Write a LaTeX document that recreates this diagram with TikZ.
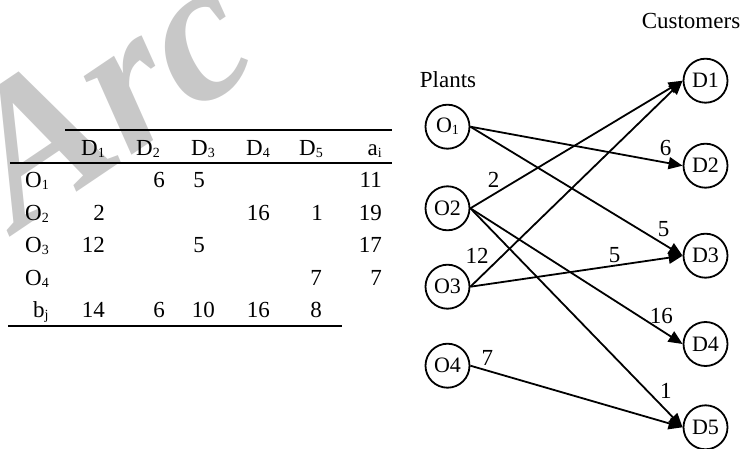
\documentclass[tikz,border=0pt]{standalone}
\usepackage{fontspec}
\setmainfont{Liberation Serif}
\usetikzlibrary{arrows.meta}
\definecolor{markGray}{RGB}{200,200,200}
\newcommand{\sbs}[1]{\raisebox{-2pt}{\fontsize{14}{14}\selectfont #1}}
\tikzset{
  site/.style = {
    draw,
    circle,
    line width=1.8pt,
    minimum size=44pt,
    inner sep=0pt,
    font=\fontsize{22}{22}\selectfont,
  },
  flow/.style = {
    -{Triangle[length=14pt, width=12pt]},
    line width=1.8pt,
  },
  onFlow/.style = {
    inner sep=2pt,
    font=\fontsize{23}{23}\selectfont,
  },
  cell/.style = {
    anchor=base east,
    inner sep=0pt,
    font=\fontsize{23}{23}\selectfont,
  },
  rowHead/.style = {
    cell,
    anchor=base west,
  },
  rule/.style = {
    line width=1.8pt,
  },
}

\begin{document}
\begin{tikzpicture}[x=1pt, y=-1pt]
\useasboundingbox (0,0) rectangle (741,449);

\begin{scope}
\clip (0,0) rectangle (741,449);
\node(Mark)[rotate=34, anchor=base west, inner sep=0pt, text=markGray,
  font=\fontsize{200}{200}\selectfont\bfseries\itshape] at (18,232) {Arc};
\end{scope}

% table
\node(HeadD1)[cell] at (105,155.5) {D\sbs{1}};
\node(HeadD2)[cell] at (160,155.5) {D\sbs{2}};
\node(HeadD3)[cell] at (215,155.5) {D\sbs{3}};
\node(HeadD4)[cell] at (270,155.5) {D\sbs{4}};
\node(HeadD5)[cell] at (323,155.5) {D\sbs{5}};
\node(HeadA)[cell] at (382,155.5) {a\sbs{i}};

\node(RowO1)[rowHead] at (25,187.5) {O\sbs{1}};
\node(RowO2)[rowHead] at (25,220) {O\sbs{2}};
\node(RowO3)[rowHead] at (25,252.5) {O\sbs{3}};
\node(RowO4)[rowHead] at (25,285) {O\sbs{4}};
\node(RowB)[rowHead] at (33,317.5) {b\sbs{j}};

\node(O1D2)[cell] at (165,187.5) {6};
\node(O1D3)[cell] at (205,187.5) {5};
\node(O1A)[cell] at (382,187.5) {11};
\node(O2D1)[cell] at (105,220) {2};
\node(O2D4)[cell] at (270,220) {16};
\node(O2D5)[cell] at (323,220) {1};
\node(O2A)[cell] at (382,220) {19};
\node(O3D1)[cell] at (105,252.5) {12};
\node(O3D3)[cell] at (205,252.5) {5};
\node(O3A)[cell] at (382,252.5) {17};
\node(O4D5)[cell] at (322,285) {7};
\node(O4A)[cell] at (382,285) {7};
\node(BD1)[cell] at (105,317.5) {14};
\node(BD2)[cell] at (165,317.5) {6};
\node(BD3)[cell] at (215,317.5) {10};
\node(BD4)[cell] at (270,317.5) {16};
\node(BD5)[cell] at (322,317.5) {8};

\draw[rule] (65,130) -- (392,130);
\draw[rule] (10,163) -- (392,163);
\draw[rule] (8,326) -- (342,326);

% network
\node(Plants)[cell, anchor=base] at (448,87.5) {Plants};
\node(Customers)[cell, anchor=base] at (691,28.3) {Customers};

\node(O1)[site] at (447.5,126.7) {O\sbs{1}};
\node(O2)[site] at (447.5,208.3) {O2};
\node(O3)[site] at (447.5,286.7) {O3};
\node(O4)[site] at (447.5,365.7) {O4};

\node(D1)[site] at (705.5,80.7) {D1};
\node(D2)[site] at (705.5,165.7) {D2};
\node(D3)[site] at (705.5,255.7) {D3};
\node(D4)[site] at (705.5,344) {D4};
\node(D5)[site] at (705.5,427.3) {D5};

\draw[flow] (O1.east) -- node[onFlow, pos=.92, above=4pt] {6} (D2.west);
\draw[flow] (O1.east) -- node[onFlow, pos=.91, above=4pt] {5} (D3.west);
\draw[flow] (O2.east) -- node[onFlow, pos=.11, above=4pt] {2} (D1.west);
\draw[flow] (O2.east) -- node[onFlow, pos=.9, above=4pt] {16} (D4.west);
\draw[flow] (O2.east) -- node[onFlow, pos=.88, above right=0pt] {1} (D5.west);
\draw[flow] (O3.east) -- node[onFlow, pos=.1, above left=0pt] {12} (D1.west);
\draw[flow] (O3.east) -- node[onFlow, pos=.68, above=0pt] {5} (D3.west);
\draw[flow] (O4.east) -- node[onFlow, pos=.08, above=2pt] {7} (D5.west);

\end{tikzpicture}
\end{document}
